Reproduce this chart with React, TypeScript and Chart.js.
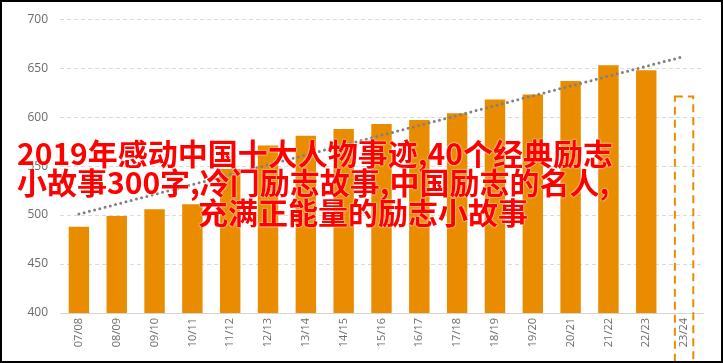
import React, { useEffect, useRef } from "react";
import { Chart, registerables } from "chart.js";

Chart.register(...registerables);

const categories = [
  "07/08", "08/09", "09/10", "10/11", "11/12", "12/13", "13/14", "14/15", "15/16",
  "16/17", "17/18", "18/19", "19/20", "20/21", "21/22", "22/23", "23/24",
];
const actualValues = [488, 499, 506, 511, 547, 571, 581, 588, 593, 597, 604, 618, 623, 637, 653, 648, null];
const forecastValues = [null, null, null, null, null, null, null, null, null, null, null, null, null, null, null, null, 622];
const trendValues = [501, null, null, null, null, null, null, null, null, null, null, null, null, null, null, null, 662];
const yMin = 400;
const yMax = 700;
const yStep = 50;
const titleLines = [
  "2019年感动中国十大人物事迹,40个经典励志",
  "小故事300字,冷门励志故事,中国励志的名人,",
  "充满正能量的励志小故事",
];

const ORANGE = "#EA8C00";

const dashedBarPlugin = {
  id: "dashedBar",
  afterDatasetsDraw(chart: any) {
    const meta = chart.getDatasetMeta(1);
    const ctx = chart.ctx;
    meta.data.forEach((el: any, i: number) => {
      if (forecastValues[i] == null) return;
      const { x, y, base, width } = el.getProps(["x", "y", "base", "width"], true);
      ctx.save();
      ctx.setLineDash([8, 5]);
      ctx.lineWidth = 2;
      ctx.strokeStyle = ORANGE;
      ctx.strokeRect(x - width / 2 + 1, y + 1, width - 2, base - y - 1);
      ctx.restore();
    });
  },
};

export default function App() {
  const ref = useRef<HTMLCanvasElement | null>(null);

  useEffect(() => {
    if (!ref.current) return;
    const chart = new Chart(ref.current, {
      type: "bar",
      data: {
        labels: categories,
        datasets: [
          {
            type: "bar",
            data: actualValues,
            backgroundColor: ORANGE,
            barPercentage: 0.54,
            categoryPercentage: 1,
            grouped: false,
            order: 2,
          } as any,
          {
            type: "bar",
            data: forecastValues,
            backgroundColor: "rgba(0,0,0,0)",
            barPercentage: 0.54,
            categoryPercentage: 1,
            grouped: false,
            order: 3,
          } as any,
          {
            type: "line",
            data: trendValues,
            spanGaps: true,
            borderColor: "#808080",
            borderWidth: 3,
            borderDash: [0, 5.4],
            borderCapStyle: "round",
            pointRadius: 0,
            fill: false,
            order: 1,
          } as any,
        ],
      },
      options: {
        responsive: false,
        animation: false,
        layout: { padding: { top: 19, right: 20, left: 0, bottom: 0 } },
        plugins: { legend: { display: false }, tooltip: { enabled: false } },
        scales: {
          x: {
            grid: { display: false, drawTicks: false },
            border: { display: true, color: "#d4d4d4", width: 1 },
            ticks: {
              autoSkip: false,
              minRotation: 90,
              maxRotation: 90,
              padding: 5,
              color: "#6b6b6b",
              font: { family: "'Open Sans', sans-serif", size: 11 },
            },
            afterFit(scale: any) {
              scale.height = 50;
            },
          },
          y: {
            min: yMin,
            max: yMax,
            grid: { color: "#dadada", drawTicks: false },
            border: { display: false, dash: [4, 3] },
            ticks: {
              stepSize: yStep,
              padding: 12,
              color: "#6b6b6b",
              font: { family: "'Open Sans', sans-serif", size: 12 },
            },
            afterFit(scale: any) {
              scale.width = 60;
            },
          },
        },
      } as any,
      plugins: [dashedBarPlugin],
    });
    return () => chart.destroy();
  }, []);

  const lineTops = [137, 166, 196];
  const lineLefts = [17, 17, 198];

  return (
    <div style={{ position: "fixed", left: 0, top: 0, width: 723, height: 363, background: "#fff", overflow: "hidden" }}>
      <canvas ref={ref} width={723} height={363} style={{ position: "absolute", left: 0, top: 0 }} />
      {titleLines.map((t, i) => (
        <div
          key={i}
          style={{
            position: "absolute",
            left: lineLefts[i],
            top: lineTops[i],
            whiteSpace: "nowrap",
            fontFamily: "'Noto Sans CJK SC', sans-serif",
            fontWeight: 700,
            fontSize: 30,
            lineHeight: "30px",
            color: "#ff0000",
            textShadow: "0 0 2px #fff, 0 0 1px #fff",
          }}
        >
          {t}
        </div>
      ))}
      <div
        style={{
          position: "absolute",
          left: 0,
          top: 0,
          width: 723,
          height: 363,
          boxSizing: "border-box",
          border: "2px solid #000",
          pointerEvents: "none",
        }}
      />
    </div>
  );
}
